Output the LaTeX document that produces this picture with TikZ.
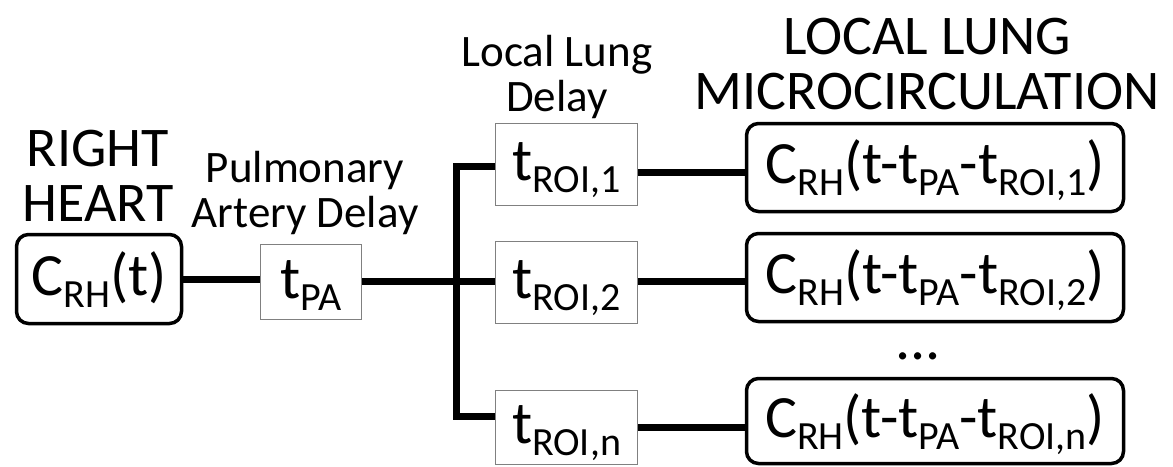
\documentclass[tikz,border=0pt]{standalone}
\usepackage{fontspec}
\setmainfont{Carlito}
\newcommand\sbx[1]{\raisebox{-12pt}{\fontsize{40}{40}\selectfont #1}}
\begin{document}
\begin{tikzpicture}[x=1pt,y=-1pt,
  conn/.style={line width=7pt},
  rbox/.style={draw, line width=3.5pt, rounded corners=12pt, inner sep=0pt,
    text height=44pt, text depth=12pt, font=\fontsize{60}{60}\selectfont},
  dbox/.style={draw=black!50, line width=1.5pt, inner sep=0pt,
    text height=44pt, text depth=12pt, font=\fontsize{60}{60}\selectfont},
  ttl/.style={align=center, inner sep=0pt, text depth=0pt, anchor=south,
    font=\fontsize{56}{55}\selectfont},
  lbl/.style={align=center, inner sep=0pt, text depth=0pt, anchor=south,
    font=\fontsize{45}{45}\selectfont}]
\useasboundingbox (0,0) rectangle (1173,466);
% titles
\node[ttl] (trh) at (98,222) {RIGHT\\HEART};
\node[lbl] (tpal) at (305,228) {Pulmonary\\Artery Delay};
\node[lbl] (tlld) at (557,112) {Local Lung\\Delay};
\node[ttl] (tllm) at (927,110) {LOCAL LUNG\\MICROCIRCULATION};
% boxes
\node[rbox, minimum width=165pt, minimum height=89pt] (crh) at (99,279) {C\sbx{RH}(t)};
\node[dbox, minimum width=101pt, minimum height=75pt] (tpa) at (311,282) {t\sbx{PA}};
\node[dbox, minimum width=142pt, minimum height=82pt] (troi1) at (566.5,164.5) {t\sbx{ROI,1}};
\node[dbox, minimum width=142pt, minimum height=82pt] (troi2) at (566.5,282.5) {t\sbx{ROI,2}};
\node[dbox, minimum width=142pt, minimum height=74pt] (troin) at (566.5,427.5) {t\sbx{ROI,n}};
\node[rbox, minimum width=377pt, minimum height=88pt] (c1) at (935,167.5) {C\sbx{RH}(t-t\sbx{PA}-t\sbx{ROI,1})};
\node[rbox, minimum width=377pt, minimum height=88pt] (c2) at (935,277.5) {C\sbx{RH}(t-t\sbx{PA}-t\sbx{ROI,2})};
\node[rbox, minimum width=377pt, minimum height=85pt] (c3) at (935,421) {C\sbx{RH}(t-t\sbx{PA}-t\sbx{ROI,n})};
\node[inner sep=0pt, anchor=base, font=\fontsize{60}{60}\selectfont] (dots) at (918,359) {...};
% connectors
\coordinate (j) at (456.5,281);
\coordinate (b1) at (456.5,166);
\coordinate (bn) at (456.5,416);
\coordinate (r1) at (0,172);
\coordinate (r2) at (0,281);
\coordinate (rn) at (0,427);
\draw[conn] (crh.east) -- (crh.east -| tpa.west);
\draw[conn] (tpa.east |- j) -- (j -| troi2.west);
\draw[conn] (b1 -| troi1.west) -- (b1) -- (bn) -- (bn -| troin.west);
\draw[conn] (troi1.east |- r1) -- (c1.west |- r1);
\draw[conn] (troi2.east |- r2) -- (c2.west |- r2);
\draw[conn] (troin.east |- rn) -- (c3.west |- rn);
\end{tikzpicture}
\end{document}
